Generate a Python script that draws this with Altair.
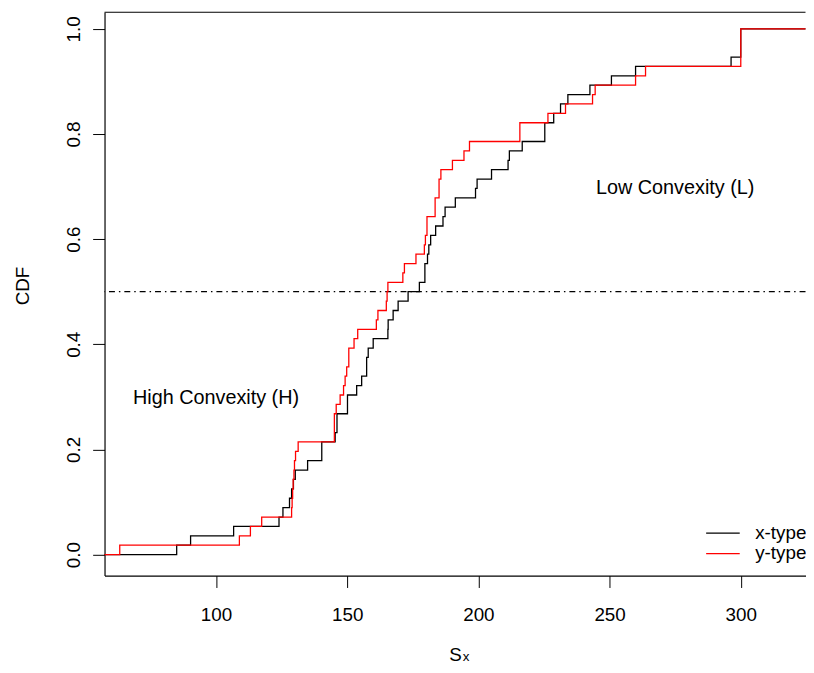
import altair as alt
import numpy as np
import pandas as pd

x_type = [85.0, 90.3, 106.7, 124.0, 125.5, 128.0, 128.8, 129.5, 130.2, 134.9,
          140.3, 140.3, 145.4, 146.1, 146.1, 150.1, 150.1, 153.6, 155.5, 157.4,
          157.4, 158.0, 159.9, 165.5, 165.6, 167.5, 169.4, 173.2, 177.5, 179.6,
          179.6, 180.6, 181.1, 181.8, 183.7, 186.5, 187.3, 191.2, 198.9, 199.5,
          205.0, 211.3, 211.8, 216.7, 225.3, 225.3, 228.7, 231.3, 234.1, 242.5,
          250.7, 259.9, 296.3, 300.0, 300.0, 300.0]
y_type = [63.3, 108.9, 113.1, 117.4, 128.8, 129.0, 129.2, 129.4, 129.7, 129.9,
          130.3, 131.3, 145.1, 145.1, 145.1, 145.8, 147.3, 148.6, 149.2, 149.8,
          150.6, 150.6, 152.6, 154.0, 161.1, 161.7, 164.9, 165.2, 165.5, 171.2,
          171.8, 176.2, 179.4, 179.8, 180.4, 180.4, 183.5, 183.5, 185.0, 185.0,
          185.7, 190.1, 194.5, 196.6, 215.8, 215.8, 226.5, 233.2, 243.5, 244.5,
          259.9, 263.7, 300.0, 300.0, 300.0, 300.0]

types = ["x-type", "y-type"]
colors = ["black", "red"]
x_ticks = [100, 150, 200, 250, 300]
y_ticks = [0.0, 0.2, 0.4, 0.6, 0.8, 1.0]
notes = ["High Convexity (H)", "Low Convexity (L)"]
median_level = [0.5]

FONT = "Liberation Sans"
FS = 19

# build the empirical CDFs (extended past both ends, clipped by the plot)
parts = []
for name, vals in zip(types, [x_type, y_type]):
    v = np.sort(np.array(vals))
    n = len(v)
    xs = np.concatenate([[0.0], v, [400.0]])
    cdf = np.concatenate([[0.0], np.arange(1, n + 1) / n, [1.0]])
    parts.append(pd.DataFrame({"Sx": xs, "CDF": cdf, "type": name,
                               "i": np.arange(len(xs))}))
ecdf = pd.concat(parts, ignore_index=True)

xs_ = alt.Scale(domain=[57.5, 324.67], nice=False, zero=False)
ys_ = alt.Scale(domain=[-0.04, 1.0316], nice=False, zero=False)

x_axis = alt.Axis(values=x_ticks, title=None, grid=False, tickSize=12,
                  labelPadding=18, labelFont=FONT, labelFontSize=FS,
                  labelColor="black", domainColor="black", tickColor="black",
                  domainWidth=1.2, labelFlush=False)
y_axis = alt.Axis(values=y_ticks, format=".1f", grid=False, tickSize=12,
                  labelAngle=270, labelAlign="center", labelBaseline="bottom",
                  labelPadding=9.5, labelFont=FONT, labelFontSize=FS,
                  labelColor="black", domainColor="black", tickColor="black",
                  domainWidth=1.2, labelFlush=False, labelOverlap=False,
                  title="CDF", titleFont=FONT, titleFontSize=FS,
                  titleFontWeight="normal", titleColor="black", titleAngle=270,
                  titleAlign="center", titleBaseline="bottom",
                  titleX=-72.5, titleY=276)

X = lambda f: alt.X(f, scale=xs_, axis=x_axis)
Y = lambda f: alt.Y(f, scale=ys_, axis=y_axis)

dash = alt.Chart(pd.DataFrame({"CDF": median_level})).mark_rule(
    color="black", strokeWidth=1.2, strokeDash=[6, 4, 1.5, 4]
).encode(y=Y("CDF:Q"))

lines = alt.Chart(ecdf).mark_line(
    interpolate="step-after", strokeWidth=1.3, clip=True
).encode(
    x=X("Sx:Q"),
    y=Y("CDF:Q"),
    color=alt.Color("type:N", scale=alt.Scale(domain=types, range=colors), legend=None),
    order="i:Q",
)

note_df = pd.DataFrame({"Sx": [100, 275], "CDF": [0.3, 0.7], "label": notes})
note_text = alt.Chart(note_df).mark_text(
    font=FONT, fontSize=20, align="center", baseline="middle", dy=1, color="black"
).encode(x=X("Sx:Q"), y=Y("CDF:Q"), text="label:N")

# legend drawn by hand, bottom right, no box
leg_df = pd.DataFrame({"Sx": [286.8] * 2, "Sx2": [299.6] * 2, "tx": [305.5] * 2,
                       "CDF": [0.041, 0.002], "type": types})
leg_lines = alt.Chart(leg_df).mark_rule(strokeWidth=1.3).encode(
    x=X("Sx:Q"), x2="Sx2:Q", y=Y("CDF:Q"),
    color=alt.Color("type:N", scale=alt.Scale(domain=types, range=colors), legend=None),
)
leg_text = alt.Chart(leg_df).mark_text(
    font=FONT, fontSize=FS, align="left", baseline="middle", color="black"
).encode(x=X("tx:Q"), y=Y("CDF:Q"), text="type:N")

# x axis title S with subscript x
s_main = alt.Chart(pd.DataFrame({"Sx": [191.3], "CDF": [-0.192], "t": ["S"]})).mark_text(
    font=FONT, fontSize=FS, align="center", baseline="middle", color="black"
).encode(x=X("Sx:Q"), y=Y("CDF:Q"), text="t:N")
s_sub = alt.Chart(pd.DataFrame({"Sx": [194.0], "CDF": [-0.2015], "t": ["x"]})).mark_text(
    font=FONT, fontSize=13.5, align="left", baseline="alphabetic", color="black"
).encode(x=X("Sx:Q"), y=Y("CDF:Q"), text="t:N")

top_edge = alt.Chart(pd.DataFrame({"CDF": [1.0316]})).mark_rule(
    color="black", strokeWidth=1.2
).encode(y=Y("CDF:Q"))

chart = alt.layer(
    dash, lines, note_text, leg_lines, leg_text, s_main, s_sub, top_edge
).properties(
    width=708, height=569,
    padding={"left": 97.5, "top": 1, "right": 0.5, "bottom": 87},
    autosize=alt.AutoSizeParams(type="none"),
).configure_view(strokeWidth=0)

chart.save("out.html", embed_options={"renderer": "svg", "actions": False})
